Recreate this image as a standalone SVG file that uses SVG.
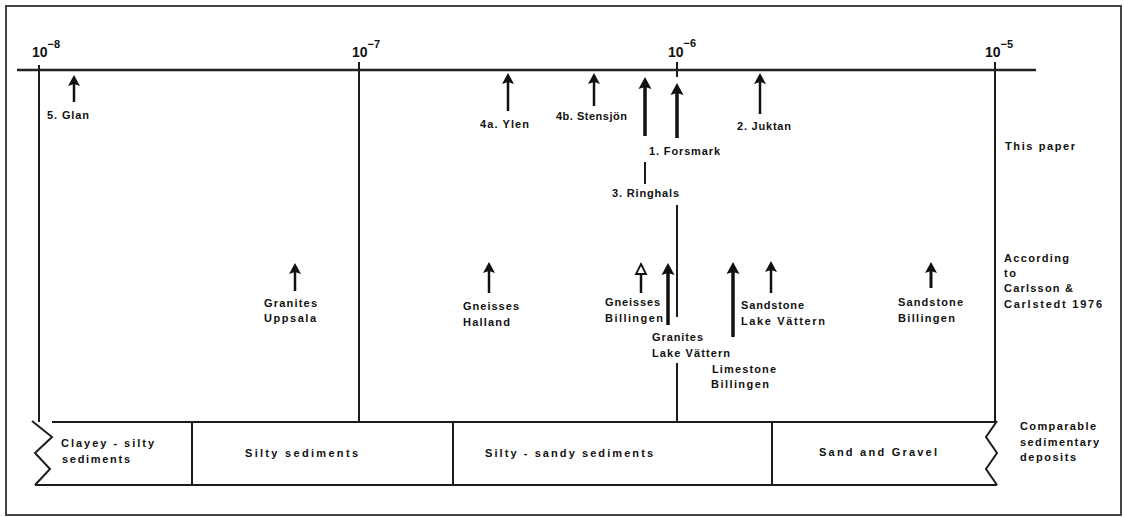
<svg xmlns="http://www.w3.org/2000/svg" width="1124" height="517" viewBox="0 0 1124 517">
<style>
.t{font-family:"Liberation Sans",Arial,sans-serif;font-weight:bold;font-size:11px;fill:#111}
.e{font-family:"Liberation Sans",Arial,sans-serif;font-weight:bold;font-size:14px;fill:#111}
.s{font-size:11px}
.ln{stroke:#1c1c1c;stroke-width:2;fill:none}
.ax{stroke:#222;stroke-width:2.5;fill:none}
.sh{stroke:#111;stroke-width:2.5;fill:none}
.sh3{stroke:#111;stroke-width:3.5;fill:none}
.hd{fill:#111}
.ho{fill:#fff;stroke:#111;stroke-width:1.8}
</style>
<rect x="0" y="0" width="1124" height="517" fill="#fff"/>
<rect x="6" y="6" width="1115" height="509" fill="none" stroke="#444" stroke-width="2"/>

<g id="axis">
  <line class="ax" x1="17" y1="70" x2="1036" y2="70"/>
  <line class="ln" x1="39" y1="65" x2="39" y2="422"/>
  <line class="ln" x1="359" y1="62" x2="359" y2="422"/>
  <line class="ln" x1="995" y1="62" x2="995" y2="422"/>
  <line class="ln" x1="677" y1="62" x2="677" y2="77"/>
  <line class="ln" x1="677" y1="205" x2="677" y2="317"/>
  <line class="ln" x1="677" y1="363" x2="677" y2="422"/>
  <text class="e" x="32" y="57">10<tspan class="s" dx="0" dy="-9">−8</tspan></text>
  <text class="e" x="352" y="57">10<tspan class="s" dx="0" dy="-9">−7</tspan></text>
  <text class="e" x="668" y="57">10<tspan class="s" dx="0" dy="-10">−6</tspan></text>
  <text class="e" x="985" y="57">10<tspan class="s" dx="0" dy="-9">−5</tspan></text>
</g>

<g id="connectors">
  <line class="sh" x1="74" y1="84" x2="74" y2="102"/><polygon class="hd" points="74,75 80,86 74,84 68,86"/>
  <line class="sh" x1="508" y1="82" x2="508" y2="111"/><polygon class="hd" points="508,73 514,84 508,82 502,84"/>
  <line class="sh" x1="594" y1="82" x2="594" y2="106"/><polygon class="hd" points="594,73 600,84 594,82 588,84"/>
  <line class="sh3" x1="645" y1="87" x2="645" y2="136"/><polygon class="hd" points="645,77 651.5,89 645,87 638.5,89"/>
  <line class="ln" x1="645" y1="162" x2="645" y2="184"/>
  <line class="sh3" x1="677" y1="93" x2="677" y2="138"/><polygon class="hd" points="677,83 683.5,95 677,93 670.5,95"/>
  <line class="sh" x1="760" y1="82" x2="760" y2="114"/><polygon class="hd" points="760,73 766,84 760,82 754,84"/>
  <line class="sh" x1="295" y1="272" x2="295" y2="291"/><polygon class="hd" points="295,263 301,274 295,272 289,274"/>
  <line class="sh" x1="489" y1="271" x2="489" y2="293"/><polygon class="hd" points="489,262 495,273 489,271 483,273"/>
  <line class="sh" x1="641" y1="273" x2="641" y2="293"/><polygon class="ho" points="641,264 646,274 636,274"/>
  <line class="sh3" x1="668" y1="273" x2="668" y2="325"/><polygon class="hd" points="668,263 674.5,275 668,273 661.5,275"/>
  <line class="sh3" x1="733" y1="272" x2="733" y2="337"/><polygon class="hd" points="733,262 739.5,274 733,272 726.5,274"/>
  <line class="sh" x1="771" y1="270" x2="771" y2="293"/><polygon class="hd" points="771,261 777,272 771,270 765,272"/>
  <line class="sh" x1="931" y1="271" x2="931" y2="288" style="stroke-width:3"/><polygon class="hd" points="931,262 937,273 931,271 925,273"/>
</g>

<g id="glan"><text class="t" x="47" y="119" textLength="42" lengthAdjust="spacing">5. Glan</text></g>
<g id="ylen"><text class="t" x="480" y="128" textLength="49" lengthAdjust="spacing">4a. Ylen</text></g>
<g id="stensjon"><text class="t" x="556" y="120" textLength="71" lengthAdjust="spacing">4b. Stensjön</text></g>
<g id="forsmark"><text class="t" x="649" y="155" textLength="71" lengthAdjust="spacing">1. Forsmark</text></g>
<g id="juktan"><text class="t" x="737" y="130" textLength="54" lengthAdjust="spacing">2. Juktan</text></g>
<g id="ringhals"><text class="t" x="612" y="197" textLength="67" lengthAdjust="spacing">3. Ringhals</text></g>
<g id="this-paper"><text class="t" x="1005" y="150" textLength="70" lengthAdjust="spacing">This  paper</text></g>

<g id="granites-uppsala">
  <text class="t" x="264" y="307" textLength="53" lengthAdjust="spacing">Granites</text>
  <text class="t" x="264" y="322" textLength="52" lengthAdjust="spacing">Uppsala</text>
</g>
<g id="gneisses-halland">
  <text class="t" x="463" y="310" textLength="56" lengthAdjust="spacing">Gneisses</text>
  <text class="t" x="463" y="326" textLength="47" lengthAdjust="spacing">Halland</text>
</g>
<g id="gneisses-billingen">
  <text class="t" x="605" y="306" textLength="55" lengthAdjust="spacing">Gneisses</text>
  <text class="t" x="605" y="322" textLength="58" lengthAdjust="spacing">Billingen</text>
</g>
<g id="granites-lake-vattern">
  <text class="t" x="652" y="341" textLength="51" lengthAdjust="spacing">Granites</text>
  <text class="t" x="652" y="357" textLength="78" lengthAdjust="spacing">Lake Vättern</text>
</g>
<g id="limestone-billingen">
  <text class="t" x="712" y="373" textLength="64" lengthAdjust="spacing">Limestone</text>
  <text class="t" x="711" y="388" textLength="58" lengthAdjust="spacing">Billingen</text>
</g>
<g id="sandstone-lake-vattern">
  <text class="t" x="741" y="309" textLength="63" lengthAdjust="spacing">Sandstone</text>
  <text class="t" x="741" y="325" textLength="84" lengthAdjust="spacing">Lake  Vättern</text>
</g>
<g id="sandstone-billingen">
  <text class="t" x="898" y="306" textLength="65" lengthAdjust="spacing">Sandstone</text>
  <text class="t" x="898" y="322" textLength="57" lengthAdjust="spacing">Billingen</text>
</g>
<g id="according">
  <text class="t" x="1004" y="262" textLength="65" lengthAdjust="spacing">According</text>
  <text class="t" x="1004" y="277" textLength="12" lengthAdjust="spacing">to</text>
  <text class="t" x="1004" y="292" textLength="69" lengthAdjust="spacing">Carlsson &amp;</text>
  <text class="t" x="1004" y="308" textLength="98" lengthAdjust="spacing">Carlstedt  1976</text>
</g>

<g id="deposits-bar">
  <line class="ln" x1="52" y1="422" x2="997" y2="422"/>
  <line class="ln" x1="35" y1="485" x2="997" y2="485"/>
  <polyline class="ln" points="32,421 52,437 35,453 50,469 35,485"/>
  <polyline class="ln" points="997,421 986,437 997,453 986,469 997,485"/>
  <line class="ln" x1="192" y1="422" x2="192" y2="485"/>
  <line class="ln" x1="453" y1="422" x2="453" y2="485"/>
  <line class="ln" x1="772" y1="422" x2="772" y2="485"/>
</g>
<g id="clayey"><text class="t" x="61" y="447" textLength="93" lengthAdjust="spacing">Clayey - silty</text><text class="t" x="62" y="463" textLength="68" lengthAdjust="spacing">sediments</text></g>
<g id="silty"><text class="t" x="245" y="457" textLength="113" lengthAdjust="spacing">Silty  sediments</text></g>
<g id="silty-sandy"><text class="t" x="485" y="457" textLength="168" lengthAdjust="spacing">Silty - sandy  sediments</text></g>
<g id="sand-gravel"><text class="t" x="819" y="456" textLength="118" lengthAdjust="spacing">Sand  and  Gravel</text></g>
<g id="comparable">
  <text class="t" x="1020" y="430" textLength="76" lengthAdjust="spacing">Comparable</text>
  <text class="t" x="1020" y="446" textLength="79" lengthAdjust="spacing">sedimentary</text>
  <text class="t" x="1020" y="461" textLength="56" lengthAdjust="spacing">deposits</text>
</g>
</svg>
